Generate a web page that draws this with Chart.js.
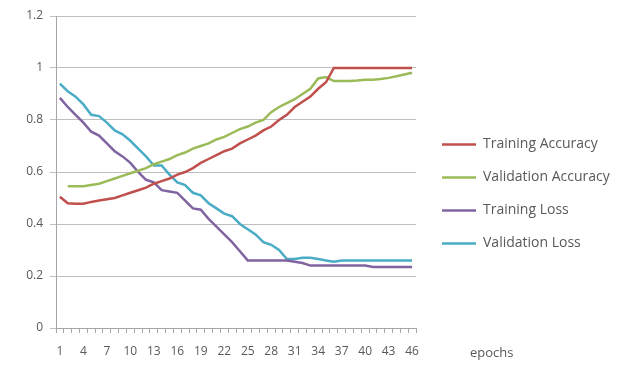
<!DOCTYPE html>
<html>
<head>
<meta charset="utf-8">
<script src="https://cdn.jsdelivr.net/npm/chart.js@4/dist/chart.umd.min.js"></script>
<style>
html,body{margin:0;padding:0;background:#ffffff;}
#wrap{width:643px;height:372px;position:relative;}
</style>
</head>
<body>
<div id="wrap"><canvas id="c" width="643" height="372"></canvas></div>
<script>
const epochs = [1,2,3,4,5,6,7,8,9,10,11,12,13,14,15,16,17,18,19,20,21,22,23,24,25,26,27,28,29,30,31,32,33,34,35,36,37,38,39,40,41,42,43,44,45,46];

const trainingAccuracy = [0.505,0.48,0.478,0.478,0.485,0.49,0.495,0.50,0.51,0.52,0.53,0.54,0.555,0.565,0.575,0.59,0.60,0.615,0.635,0.65,0.665,0.68,0.69,0.71,0.725,0.74,0.76,0.775,0.80,0.82,0.85,0.87,0.89,0.92,0.945,1.0,1.0,1.0,1.0,1.0,1.0,1.0,1.0,1.0,1.0,1.0];

const validationAccuracy = [null,0.545,0.545,0.545,0.55,0.555,0.565,0.575,0.585,0.595,0.605,0.615,0.63,0.64,0.65,0.665,0.675,0.69,0.70,0.71,0.725,0.735,0.75,0.765,0.775,0.79,0.80,0.83,0.85,0.865,0.88,0.90,0.92,0.96,0.965,0.95,0.95,0.95,0.952,0.955,0.955,0.958,0.962,0.968,0.975,0.982];

const trainingLoss = [0.885,0.85,0.82,0.79,0.755,0.74,0.71,0.68,0.66,0.635,0.60,0.57,0.56,0.53,0.525,0.52,0.49,0.46,0.455,0.42,0.39,0.36,0.33,0.295,0.26,0.26,0.26,0.26,0.26,0.26,0.255,0.25,0.24,0.24,0.24,0.24,0.24,0.24,0.24,0.24,0.235,0.235,0.235,0.235,0.235,0.235];

const validationLoss = [0.94,0.91,0.89,0.86,0.82,0.815,0.79,0.76,0.745,0.72,0.69,0.66,0.625,0.625,0.59,0.56,0.55,0.52,0.51,0.48,0.46,0.44,0.43,0.40,0.38,0.36,0.33,0.32,0.30,0.265,0.265,0.27,0.27,0.265,0.26,0.255,0.26,0.26,0.26,0.26,0.26,0.26,0.26,0.26,0.26,0.26];

const seriesNames = ['Training Accuracy','Validation Accuracy','Training Loss','Validation Loss'];
const seriesColors = ['#C0504D','#9BBB59','#8064A2','#4BACC6'];
const yTicks = [0,0.2,0.4,0.6,0.8,1,1.2];
const xTitle = 'epochs';

const textColor = '#595959';
const fontFam = "'Open Sans', 'Liberation Sans', sans-serif";

const epochsLabel = {
  id: 'epochsLabel',
  afterDraw(chart) {
    const ctx = chart.ctx;
    const a = chart.chartArea;
    ctx.save();
    ctx.font = "13px " + fontFam;
    ctx.fillStyle = textColor;
    ctx.textAlign = 'left';
    ctx.textBaseline = 'middle';
    ctx.fillText(xTitle, a.right + 54, 353);
    ctx.restore();
  }
};

const legendWidth = {
  id: 'legendWidth',
  beforeUpdate(chart) {
    const lg = chart.legend;
    if (lg && !lg._patched) {
      const orig = lg.fit;
      lg.fit = function() { orig.call(this); this.width = 227; };
      lg._patched = true;
    }
  },
  beforeDraw(chart) {
    const lg = chart.legend;
    if (lg) { lg.left = chart.chartArea.right + 7; lg.right = lg.left + 220; }
  }
};

const allSeries = [trainingAccuracy, validationAccuracy, trainingLoss, validationLoss];

function draw() {
  new Chart(document.getElementById('c'), {
    type: 'line',
    data: {
      labels: epochs,
      datasets: allSeries.map((d, i) => ({
        label: seriesNames[i],
        data: d,
        borderColor: seriesColors[i],
        backgroundColor: seriesColors[i],
        borderWidth: 2.5,
        pointRadius: 0,
        pointHoverRadius: 0,
        tension: 0,
        fill: false,
        spanGaps: false
      }))
    },
    options: {
      responsive: false,
      animation: false,
      devicePixelRatio: 1,
      layout: { padding: { top: 16, right: 0, bottom: 0, left: 0 } },
      plugins: {
        tooltip: { enabled: false },
        legend: {
          position: 'right',
          align: 'center',
          labels: {
            usePointStyle: true,
            pointStyle: 'line',
            pointStyleWidth: 34,
            padding: 19,
            color: textColor,
            font: { family: fontFam, size: 14 }
          }
        }
      },
      scales: {
        x: {
          type: 'category',
          offset: true,
          grid: { offset: true, drawOnChartArea: false, drawTicks: true, tickLength: 5, color: '#a6a6a6' },
          border: { color: '#a6a6a6' },
          ticks: {
            autoSkip: false,
            maxRotation: 0,
            minRotation: 0,
            padding: 11,
            color: textColor,
            font: { family: fontFam, size: 12 },
            callback: function(v, i) { return i % 3 === 0 ? String(this.getLabelForValue(v)) : ''; }
          },
          afterFit: s => { s.height = 44; }
        },
        y: {
          min: 0,
          max: 1.2,
          afterBuildTicks: s => { s.ticks = yTicks.map(v => ({ value: v })); },
          grid: { color: '#bfbfbf', tickLength: 6 },
          border: { color: '#a6a6a6' },
          ticks: {
            padding: 7,
            color: textColor,
            font: { family: fontFam, size: 12 },
            callback: v => String(Number(v.toFixed(1)))
          },
          afterFit: s => { s.width = 56; }
        }
      }
    },
    plugins: [legendWidth, epochsLabel]
  });
}

if (document.fonts && document.fonts.load) {
  Promise.all([document.fonts.load("14px 'Open Sans'"), document.fonts.load("12px 'Open Sans'")])
    .then(draw, draw);
} else {
  draw();
}
</script>
</body>
</html>
